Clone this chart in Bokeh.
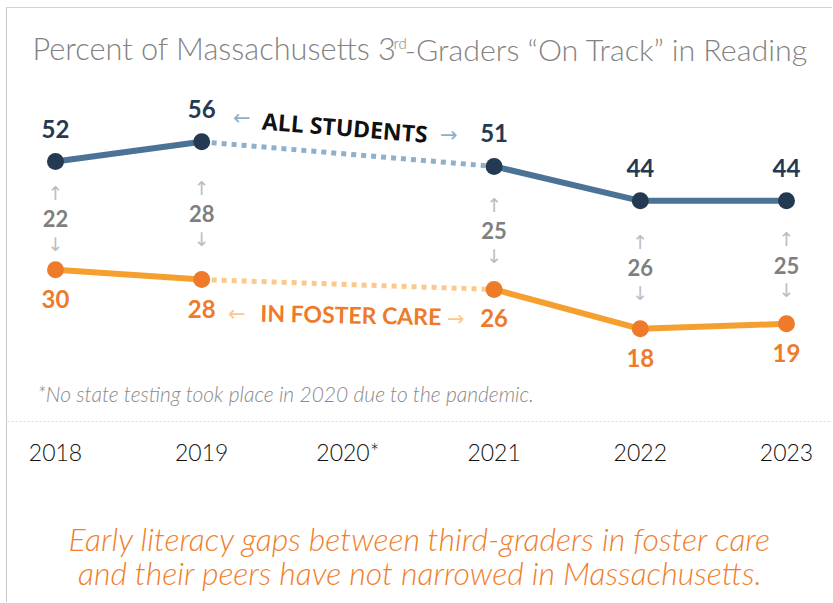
import math
from bokeh.plotting import figure
from bokeh.models import Range1d, FixedTicker, Label, Title
from bokeh.core.properties import value
from bokeh.embed import file_html
from bokeh.resources import INLINE

# ---- data ----
YEARS = ["2018", "2019", "2020*", "2021", "2022", "2023"]
ALL_STUDENTS = [52, 56, math.nan, 51, 44, 44]
FOSTER_CARE = [30, 28, math.nan, 26, 18, 19]

TITLE_A = "Percent of Massachusetts 3"
TITLE_SUP = "rd"
TITLE_B = "-Graders \u201cOn Track\u201d in Reading"
FOOTNOTE = "*No state testing took place in 2020 due to the pandemic."
SUB1 = "Early literacy gaps between third-graders in foster care"
SUB2 = "and their peers have not narrowed in Massachusetts."

# ---- derived ----
X = list(range(len(YEARS)))
MEAS = [i for i in X if not math.isnan(ALL_STUDENTS[i])]
GAP_I = 2  # the missing year
BEFORE, AFTER = GAP_I - 1, GAP_I + 1

BLUE_LINE = "#4a7396"
BLUE_DOT = "#243a52"
BLUE_LIGHT = "#8fb0c8"
OR_LINE = "#f5a02e"
OR_DOT = "#ee7a2a"
OR_LIGHT = "#fbc98b"
GRAY = "#838383"
ARROW_GRAY = "#bdbdbd"
LIGHT_FONT = "'Lato Light', Lato"

p = figure(width=826, height=595, output_backend="svg", toolbar_location=None,
           x_range=Range1d(-0.3283, 5.3215), y_range=Range1d(-0.845, 83.098),
           min_border_left=0, min_border_right=0, min_border_top=0,
           min_border_bottom=182, y_axis_location=None,
           outline_line_color=None, background_fill_color="white",
           border_fill_color="white")
p.styles = {"border-left": "1px solid #c9c9c9", "border-top": "1px solid #d4d4d4",
            "margin-left": "6px", "margin-top": "7px"}
p.xgrid.visible = False
p.ygrid.visible = False

ax = p.xaxis[0]
ax.ticker = FixedTicker(ticks=X)
ax.major_label_overrides = {i: YEARS[i] for i in X}
ax.axis_line_color = "#d9d9d9"
ax.axis_line_dash = "2 2"
ax.axis_line_width = 1
ax.major_tick_line_color = None
ax.minor_tick_line_color = None
ax.major_tick_out = 0
ax.major_tick_in = 0
ax.major_label_standoff = 16
ax.major_label_text_font = LIGHT_FONT
ax.major_label_text_font_size = "23px"
ax.major_label_text_color = "#111111"

# dotted connectors across the missing year
p.line([BEFORE, AFTER], [ALL_STUDENTS[BEFORE], ALL_STUDENTS[AFTER]],
       line_color=BLUE_LIGHT, line_width=5, line_dash="5 5")
p.line([BEFORE, AFTER], [FOSTER_CARE[BEFORE], FOSTER_CARE[AFTER]],
       line_color=OR_LIGHT, line_width=5, line_dash="5 5")

# solid lines (NaN breaks them at the missing year)
p.line(X, ALL_STUDENTS, line_color=BLUE_LINE, line_width=6)
p.line(X, FOSTER_CARE, line_color=OR_LINE, line_width=6)

mx = MEAS
p.scatter(mx, [ALL_STUDENTS[i] for i in mx], size=17, fill_color=BLUE_DOT, line_color=None)
p.scatter(mx, [FOSTER_CARE[i] for i in mx], size=17, fill_color=OR_DOT, line_color=None)

# value labels
p.text(mx, [ALL_STUDENTS[i] for i in mx], text=[str(ALL_STUDENTS[i]) for i in mx],
       y_offset=-33, text_align="center", text_baseline="middle",
       text_font=value("Lato"), text_font_style="bold", text_font_size="24px",
       text_color=BLUE_DOT)
p.text(mx, [FOSTER_CARE[i] for i in mx], text=[str(FOSTER_CARE[i]) for i in mx],
       y_offset=29, text_align="center", text_baseline="middle",
       text_font=value("Lato"), text_font_style="bold", text_font_size="24px",
       text_color=OR_DOT)

# gap labels with arrows
mid = [(ALL_STUDENTS[i] + FOSTER_CARE[i]) / 2 for i in mx]
gap = [str(ALL_STUDENTS[i] - FOSTER_CARE[i]) for i in mx]
p.text(mx, mid, text=gap, y_offset=3, text_align="center", text_baseline="middle",
       text_font=value("Lato"), text_font_style="bold", text_font_size="22px",
       text_color="#7f7f7f")
p.text(mx, mid, text=["\u2191"] * len(mx), y_offset=-23, text_align="center",
       text_baseline="middle", text_font=value("DejaVu Sans"), text_font_size="19px",
       text_color=ARROW_GRAY)
p.text(mx, mid, text=["\u2193"] * len(mx), y_offset=28, text_align="center",
       text_baseline="middle", text_font=value("DejaVu Sans"), text_font_size="19px",
       text_color=ARROW_GRAY)

# series annotations along the dotted connectors
a_mid = (ALL_STUDENTS[BEFORE] + ALL_STUDENTS[AFTER]) / 2
f_mid = (FOSTER_CARE[BEFORE] + FOSTER_CARE[AFTER]) / 2
p.text([GAP_I], [a_mid], text=["ALL STUDENTS"], y_offset=-27, x_offset=-3,
       angle=-0.08, text_align="center", text_baseline="middle",
       text_font=value("Open Sans"), text_font_style="bold", text_font_size="23px",
       text_color="#111111")
p.text([GAP_I, GAP_I], [a_mid, a_mid], text=["\u2190", "\u2192"],
       x_offset=[-106, 101], y_offset=[-36, -19], text_align="center",
       text_baseline="middle", text_font=value("DejaVu Sans"), text_font_size="21px",
       text_color=BLUE_LIGHT)
p.text([GAP_I], [f_mid], text=["IN FOSTER CARE"], y_offset=30, x_offset=3,
       angle=-0.02, text_align="center", text_baseline="middle",
       text_font=value("Lato"), text_font_style="bold", text_font_size="23px",
       text_color=OR_DOT)
p.text([GAP_I, GAP_I], [f_mid, f_mid], text=["\u2190", "\u2192"],
       x_offset=[-111, 108], y_offset=[29, 34], text_align="center",
       text_baseline="middle", text_font=value("DejaVu Sans"), text_font_size="21px",
       text_color=OR_LIGHT)

# title (screen units relative to the frame: origin bottom-left)
p.add_layout(Label(x=25, y=373, x_units="screen", y_units="screen", text=TITLE_A,
                   text_font=LIGHT_FONT, text_font_size="30.7px", text_color=GRAY,
                   text_baseline="middle", text_align="left"))
p.add_layout(Label(x=386, y=379, x_units="screen", y_units="screen", text=TITLE_SUP,
                   text_font=LIGHT_FONT, text_font_size="15px", text_color=GRAY,
                   text_baseline="middle", text_align="left"))
p.add_layout(Label(x=801, y=373, x_units="screen", y_units="screen", text=TITLE_B,
                   text_font=LIGHT_FONT, text_font_size="30.4px", text_color=GRAY,
                   text_baseline="middle", text_align="right"))

p.add_layout(Label(x=30, y=28, x_units="screen", y_units="screen", text=FOOTNOTE,
                   text_font=LIGHT_FONT, text_font_style="italic", text_font_size="21px",
                   text_color="#8a8a8a", text_baseline="middle", text_align="left"))

# closing remark below the axis (a tiny blank title acts as vertical spacer)
p.add_layout(Title(text=" ", standoff=47, text_font_size="1px"), "below")
p.add_layout(Title(text=SUB1, align="center", standoff=0, vertical_align="top",
                   text_font=LIGHT_FONT, text_font_style="italic",
                   text_font_size="32px", text_color="#f07f2e"), "below")
p.add_layout(Title(text=SUB2, align="center", standoff=-14, vertical_align="top",
                   text_font=LIGHT_FONT, text_font_style="italic",
                   text_font_size="32px", text_color="#f07f2e"), "below")

open("out.html", "w").write(file_html(p, INLINE))
